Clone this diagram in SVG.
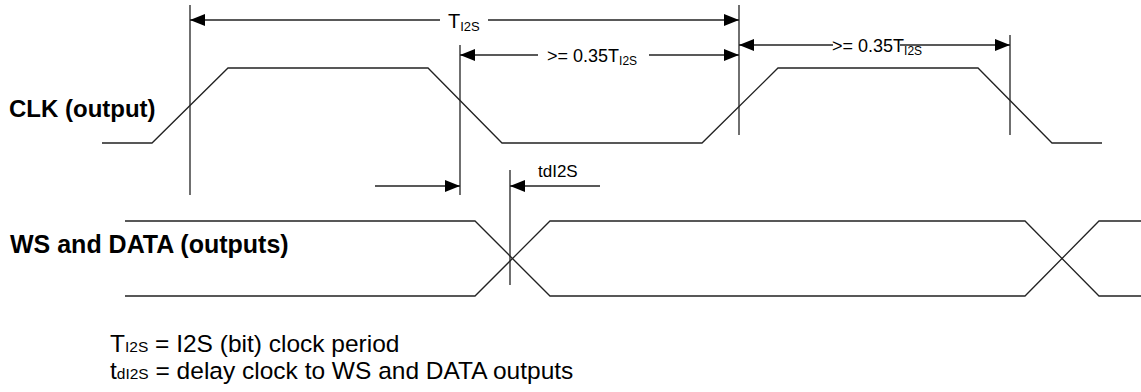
<svg xmlns="http://www.w3.org/2000/svg" width="1141" height="392" viewBox="0 0 1141 392">
<style>
.ln{stroke:#222;stroke-width:1.3;fill:none}
.dim{stroke:#222;stroke-width:1.3;fill:none}
.lbl{font-family:"Liberation Sans",Arial,sans-serif;font-weight:bold;fill:#000}
.t{font-family:"Liberation Sans",Arial,sans-serif;fill:#000}
.ft{font-family:"Liberation Sans",Arial,sans-serif;font-size:24.5px;fill:#000}
</style>
<defs>
<marker id="ah" markerUnits="userSpaceOnUse" markerWidth="16" markerHeight="13" refX="15" refY="6" orient="auto">
<path d="M0,0 L15,6 L0,12 z" fill="#000"/>
</marker>
</defs>
<rect width="1141" height="392" fill="#fff"/>
<g id="clk-label"><text class="lbl" x="9" y="117" font-size="24">CLK (output)</text></g>
<g id="ws-label"><text class="lbl" x="10" y="253" font-size="25">WS and DATA (outputs)</text></g>
<g id="clk-signal"><path class="ln" d="M102,143 L152,143 L228,68 L428,68 L502,143 L702,143 L778,68 L978,68 L1052,143 L1102,143"/></g>
<g id="ws-signal">
<path class="ln" d="M125,221 L475,221 L550,296 L1025,296 L1099,221 L1141,221"/>
<path class="ln" d="M125,296 L475,296 L550,221 L1025,221 L1099,296 L1141,296"/>
</g>
<g id="guides">
<line class="ln" x1="190" y1="5" x2="190" y2="195"/>
<line class="ln" x1="460" y1="45" x2="460" y2="195"/>
<line class="ln" x1="739" y1="5" x2="739" y2="135"/>
<line class="ln" x1="1010" y1="35" x2="1010" y2="135"/>
<line class="ln" x1="510" y1="170" x2="510" y2="285"/>
</g>
<g id="connectors">
<line class="dim" x1="440" y1="20" x2="190" y2="20" marker-end="url(#ah)"/>
<line class="dim" x1="488" y1="20" x2="739" y2="20" marker-end="url(#ah)"/>
<line class="dim" x1="538" y1="55" x2="460" y2="55" marker-end="url(#ah)"/>
<line class="dim" x1="649" y1="55" x2="739" y2="55" marker-end="url(#ah)"/>
<line class="dim" x1="833" y1="45" x2="739" y2="45" marker-end="url(#ah)"/>
<line class="dim" x1="900" y1="45" x2="1010" y2="45" marker-end="url(#ah)"/>
<line class="dim" x1="375" y1="186" x2="460" y2="186" marker-end="url(#ah)"/>
<line class="dim" x1="600" y1="186" x2="510" y2="186" marker-end="url(#ah)"/>
</g>
<g id="dim-labels">
<text class="t" x="448" y="28" font-size="20">T<tspan font-size="13" dy="3">I2S</tspan></text>
<text class="t" x="547" y="62" font-size="18">&gt;= 0.35T<tspan font-size="12" dy="3">I2S</tspan></text>
<text class="t" x="832" y="52" font-size="18">&gt;= 0.35T<tspan font-size="12" dy="3">I2S</tspan></text>
<text class="t" x="538" y="177" font-size="17">tdI2S</text>
</g>
<g id="legend">
<text class="ft" x="110" y="352">T<tspan font-size="15.5">I2S</tspan> = I2S (bit) clock period</text>
<text class="ft" x="110" y="379">t<tspan font-size="15.5">dI2S</tspan> = delay clock to WS and DATA outputs</text>
</g>
</svg>
